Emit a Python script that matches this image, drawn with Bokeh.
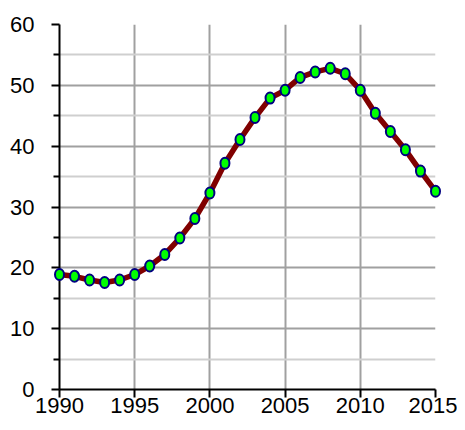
from bokeh.plotting import figure
from bokeh.models import FixedTicker, Range1d, ColumnDataSource
from bokeh.embed import file_html
from bokeh.resources import INLINE

years = list(range(1990, 2016))
values = [18.9, 18.6, 18.0, 17.6, 18.0, 18.9, 20.3, 22.2, 24.9, 28.1,
          32.3, 37.2, 41.1, 44.7, 47.9, 49.2, 51.3, 52.2, 52.8, 51.9,
          49.2, 45.4, 42.4, 39.4, 35.9, 32.6]
x_ticks = [1990, 1995, 2000, 2005, 2010, 2015]
y_ticks = [0, 10, 20, 30, 40, 50, 60]
y_minor = [5, 15, 25, 35, 45, 55]

src = ColumnDataSource(data=dict(x=years, y=values))

p = figure(width=457, height=422, output_backend="svg", toolbar_location=None,
           x_range=Range1d(1990, 2015), y_range=Range1d(0, 60),
           min_border_left=59, min_border_top=24, min_border_right=22,
           min_border_bottom=33)
p.outline_line_color = None
p.background_fill_color = "white"
p.border_fill_color = "white"

font = "Liberation Sans"
for ax in (p.xaxis[0], p.yaxis[0]):
    ax.axis_line_color = "black"
    ax.axis_line_width = 2
    ax.major_tick_line_color = "black"
    ax.major_tick_line_width = 2
    ax.major_tick_out = 8
    ax.major_tick_in = 0
    ax.major_label_text_font = font
    ax.major_label_text_font_size = "22px"
    ax.major_label_text_color = "black"

p.xaxis.ticker = FixedTicker(ticks=x_ticks)
p.xaxis.minor_tick_line_color = None
p.xaxis.major_label_standoff = 0

p.yaxis.ticker = FixedTicker(ticks=y_ticks, minor_ticks=y_minor)
p.yaxis.minor_tick_line_color = "black"
p.yaxis.minor_tick_line_width = 2
p.yaxis.minor_tick_out = 6
p.yaxis.minor_tick_in = 0
p.yaxis.major_label_standoff = 17

p.xgrid.grid_line_color = "#a0a0a0"
p.xgrid.grid_line_width = 2
p.ygrid.grid_line_color = "#a0a0a0"
p.ygrid.grid_line_width = 2
p.ygrid.minor_grid_line_color = "#cfcfcf"
p.ygrid.minor_grid_line_width = 2

ln = p.line("x", "y", source=src, line_color="#800000", line_width=5.5)
ln.level = "overlay"
el = p.ellipse("x", "y", source=src, width=9, height=11,
               width_units="screen", height_units="screen",
               fill_color="#00ff00", line_color="#000080", line_width=2)
el.level = "overlay"

open("out.html", "w").write(file_html(p, INLINE))
